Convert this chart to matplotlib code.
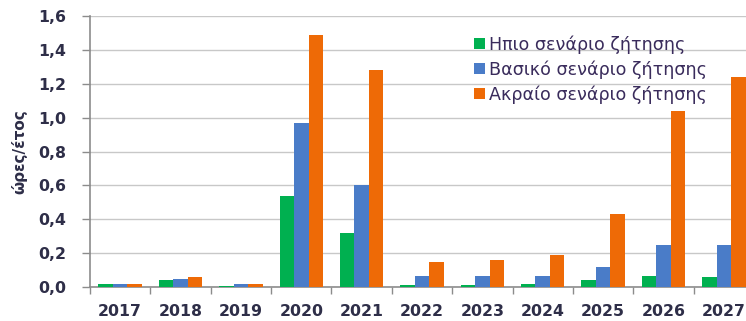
import matplotlib
matplotlib.use("Agg")
import matplotlib.pyplot as plt
import numpy as np

years = ["2017", "2018", "2019", "2020", "2021", "2022", "2023", "2024", "2025", "2026", "2027"]
mild = [0.02, 0.04, 0.005, 0.54, 0.32, 0.01, 0.01, 0.015, 0.04, 0.065, 0.06]
base = [0.02, 0.05, 0.02, 0.97, 0.60, 0.065, 0.065, 0.065, 0.12, 0.25, 0.25]
extreme = [0.02, 0.06, 0.02, 1.49, 1.28, 0.15, 0.16, 0.19, 0.43, 1.04, 1.24]
series_names = ["Ηπιο σενάριο ζήτησης", "Βασικό σενάριο ζήτησης", "Ακραίο σενάριο ζήτησης"]
y_ticks = [0.0, 0.2, 0.4, 0.6, 0.8, 1.0, 1.2, 1.4, 1.6]
y_tick_labels = ["0,0", "0,2", "0,4", "0,6", "0,8", "1,0", "1,2", "1,4", "1,6"]
y_label = "ώρες/έτος"

colors = ["#00B050", "#4A7CC8", "#EE6A06"]
text_color = "#2E2E48"

fig = plt.figure(figsize=(7.46, 3.21), dpi=100)
ax = fig.add_axes([90 / 746, 34 / 321, 664 / 746, 271 / 321])

x = np.arange(len(years))
w = 0.24
for i, (vals, name, c) in enumerate(zip([mild, base, extreme], series_names, colors)):
    ax.bar(x + (i - 1) * w, vals, width=w, color=c, label=name, zorder=3)

ax.set_xlim(-0.5, len(years) - 0.5)
ax.set_ylim(0, 1.6)
ax.set_yticks(y_ticks)
ax.set_yticklabels(y_tick_labels)
ax.yaxis.grid(True, color="#C8C8C8", linewidth=1.0, zorder=0)

ax.set_xticks(x)
ax.set_xticklabels(years)
ax.set_xticks(np.arange(len(years) + 1) - 0.5, minor=True)
ax.tick_params(axis="x", which="major", length=0, pad=12)
ax.tick_params(axis="x", which="minor", length=5, color="#8C8C8C", width=1)
ax.tick_params(axis="y", length=6, color="#8C8C8C", width=1, pad=11)
for lab in ax.get_xticklabels() + ax.get_yticklabels():
    lab.set_fontsize(11.3)
    lab.set_color(text_color)
    lab.set_fontweight("bold")

for s in ["top", "right"]:
    ax.spines[s].set_visible(False)
for s in ["left", "bottom"]:
    ax.spines[s].set_color("#8C8C8C")
    ax.spines[s].set_linewidth(1.2)

ax.set_ylabel(y_label, fontsize=11, color=text_color, fontweight="bold")
ax.yaxis.set_label_coords(-63 / 664, 0.5)

leg = ax.legend(loc="upper left", bbox_to_anchor=((474 - 90) / 664, (287 - 35) / 271),
                frameon=False, fontsize=12.6, handlelength=0.6, handleheight=0.6,
                handletextpad=0.25, labelspacing=0.38, borderaxespad=0, borderpad=0)
for t in leg.get_texts():
    t.set_color("#3A2C5C")

fig.savefig("out.png", dpi=100)
